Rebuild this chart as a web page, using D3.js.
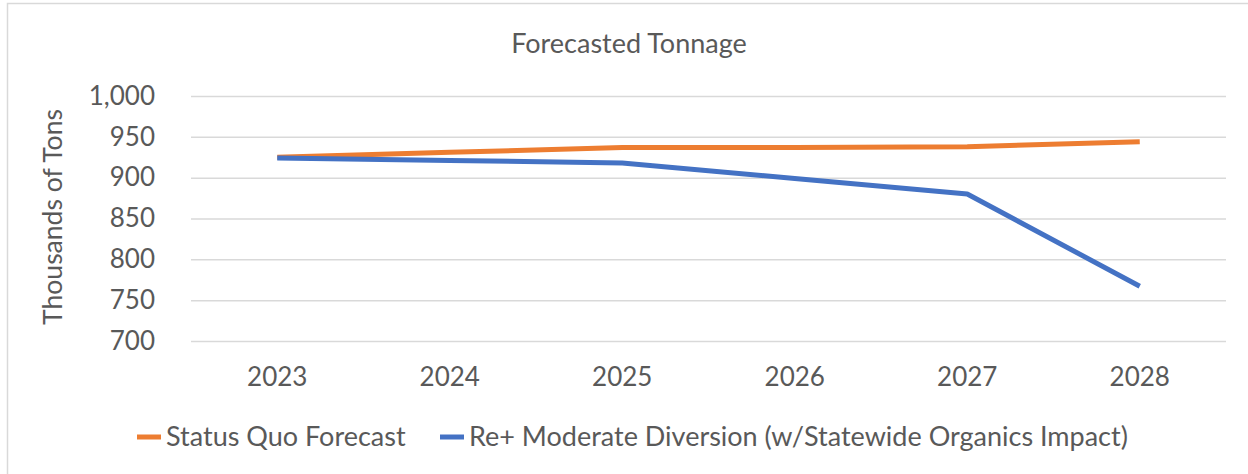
<!DOCTYPE html>
<html>
<head>
<meta charset="utf-8">
<script src="https://cdn.jsdelivr.net/npm/d3@7"></script>
<style>
  body { margin: 0; background: #fff; }
  svg text { font-family: Lato, "Open Sans", sans-serif; fill: #595959; }
</style>
</head>
<body>
<script>
// chart data
var years = ["2023", "2024", "2025", "2026", "2027", "2028"];
var statusQuo = [925, 931, 937, 937, 938, 944];
var moderateDiversion = [924, 921, 918, 899, 880, 767];
var yTicks = [700, 750, 800, 850, 900, 950, 1000];
var seriesNames = ["Status Quo Forecast", "Re+ Moderate Diversion (w/Statewide Organics Impact)"];
var seriesColors = ["#ED7D31", "#4472C4"];

var W = 1248, H = 474;
var margin = {top: 96, left: 191, right: 22, bottom: 133};
var width = W - margin.left - margin.right,
    height = H - margin.top - margin.bottom;

var svg = d3.select("body").append("svg")
    .attr("width", W)
    .attr("height", H);

// outer chart frame (runs off the right and bottom edge)
svg.append("rect")
    .attr("x", 7.5).attr("y", 3.5)
    .attr("width", W + 20).attr("height", H + 20)
    .attr("fill", "none")
    .attr("stroke", "#d9d9d9")
    .attr("stroke-width", 1.5);

var g = svg.append("g")
    .attr("transform", "translate(" + margin.left + "," + margin.top + ")");

var x = d3.scaleBand().domain(years).range([0, width]);
var y = d3.scaleLinear().domain([700, 1000]).range([height, 0]);

// gridlines
g.append("g")
    .attr("class", "grid")
    .call(d3.axisLeft(y).tickValues(yTicks).tickSize(-width).tickFormat(""))
    .call(s => s.select(".domain").remove())
    .call(s => s.selectAll("line").attr("stroke", "#d9d9d9").attr("stroke-width", 1.5));

// y labels
g.append("g")
    .call(d3.axisLeft(y).tickValues(yTicks).tickSize(0).tickPadding(36).tickFormat(d3.format(",")))
    .call(s => s.select(".domain").remove())
    .call(s => s.selectAll("text").style("font-size", "26px").attr("fill", "#595959"));

// x labels
g.append("g")
    .attr("transform", "translate(0," + height + ")")
    .call(d3.axisBottom(x).tickSize(0).tickPadding(27))
    .call(s => s.select(".domain").remove())
    .call(s => s.selectAll("text").style("font-size", "26px").attr("fill", "#595959"));

// lines
var line = d3.line()
    .x(function(d, i) { return x(years[i]) + x.bandwidth() / 2; })
    .y(function(d) { return y(d); });

[statusQuo, moderateDiversion].forEach(function(vals, k) {
  g.append("path")
      .datum(vals)
      .attr("fill", "none")
      .attr("stroke", seriesColors[k])
      .attr("stroke-width", 5)
      .attr("stroke-linejoin", "round")
      .attr("d", line);
});

// title
svg.append("text")
    .attr("x", 629).attr("y", 53)
    .attr("text-anchor", "middle")
    .style("font-size", "27px")
    .text("Forecasted Tonnage");

// y axis title
svg.append("text")
    .attr("transform", "translate(62," + (margin.top + 121) + ") rotate(-90)")
    .attr("text-anchor", "middle")
    .style("font-size", "26.5px")
    .text("Thousands of Tons");

// legend
var legendX = [137, 440];
seriesNames.forEach(function(name, k) {
  var lg = svg.append("g").attr("transform", "translate(" + legendX[k] + ",437)");
  lg.append("line")
      .attr("x1", 0).attr("x2", 24)
      .attr("stroke", seriesColors[k])
      .attr("stroke-width", 5);
  lg.append("text")
      .attr("x", 29).attr("y", 9)
      .style("font-size", "27px")
      .text(name);
});
</script>
</body>
</html>
